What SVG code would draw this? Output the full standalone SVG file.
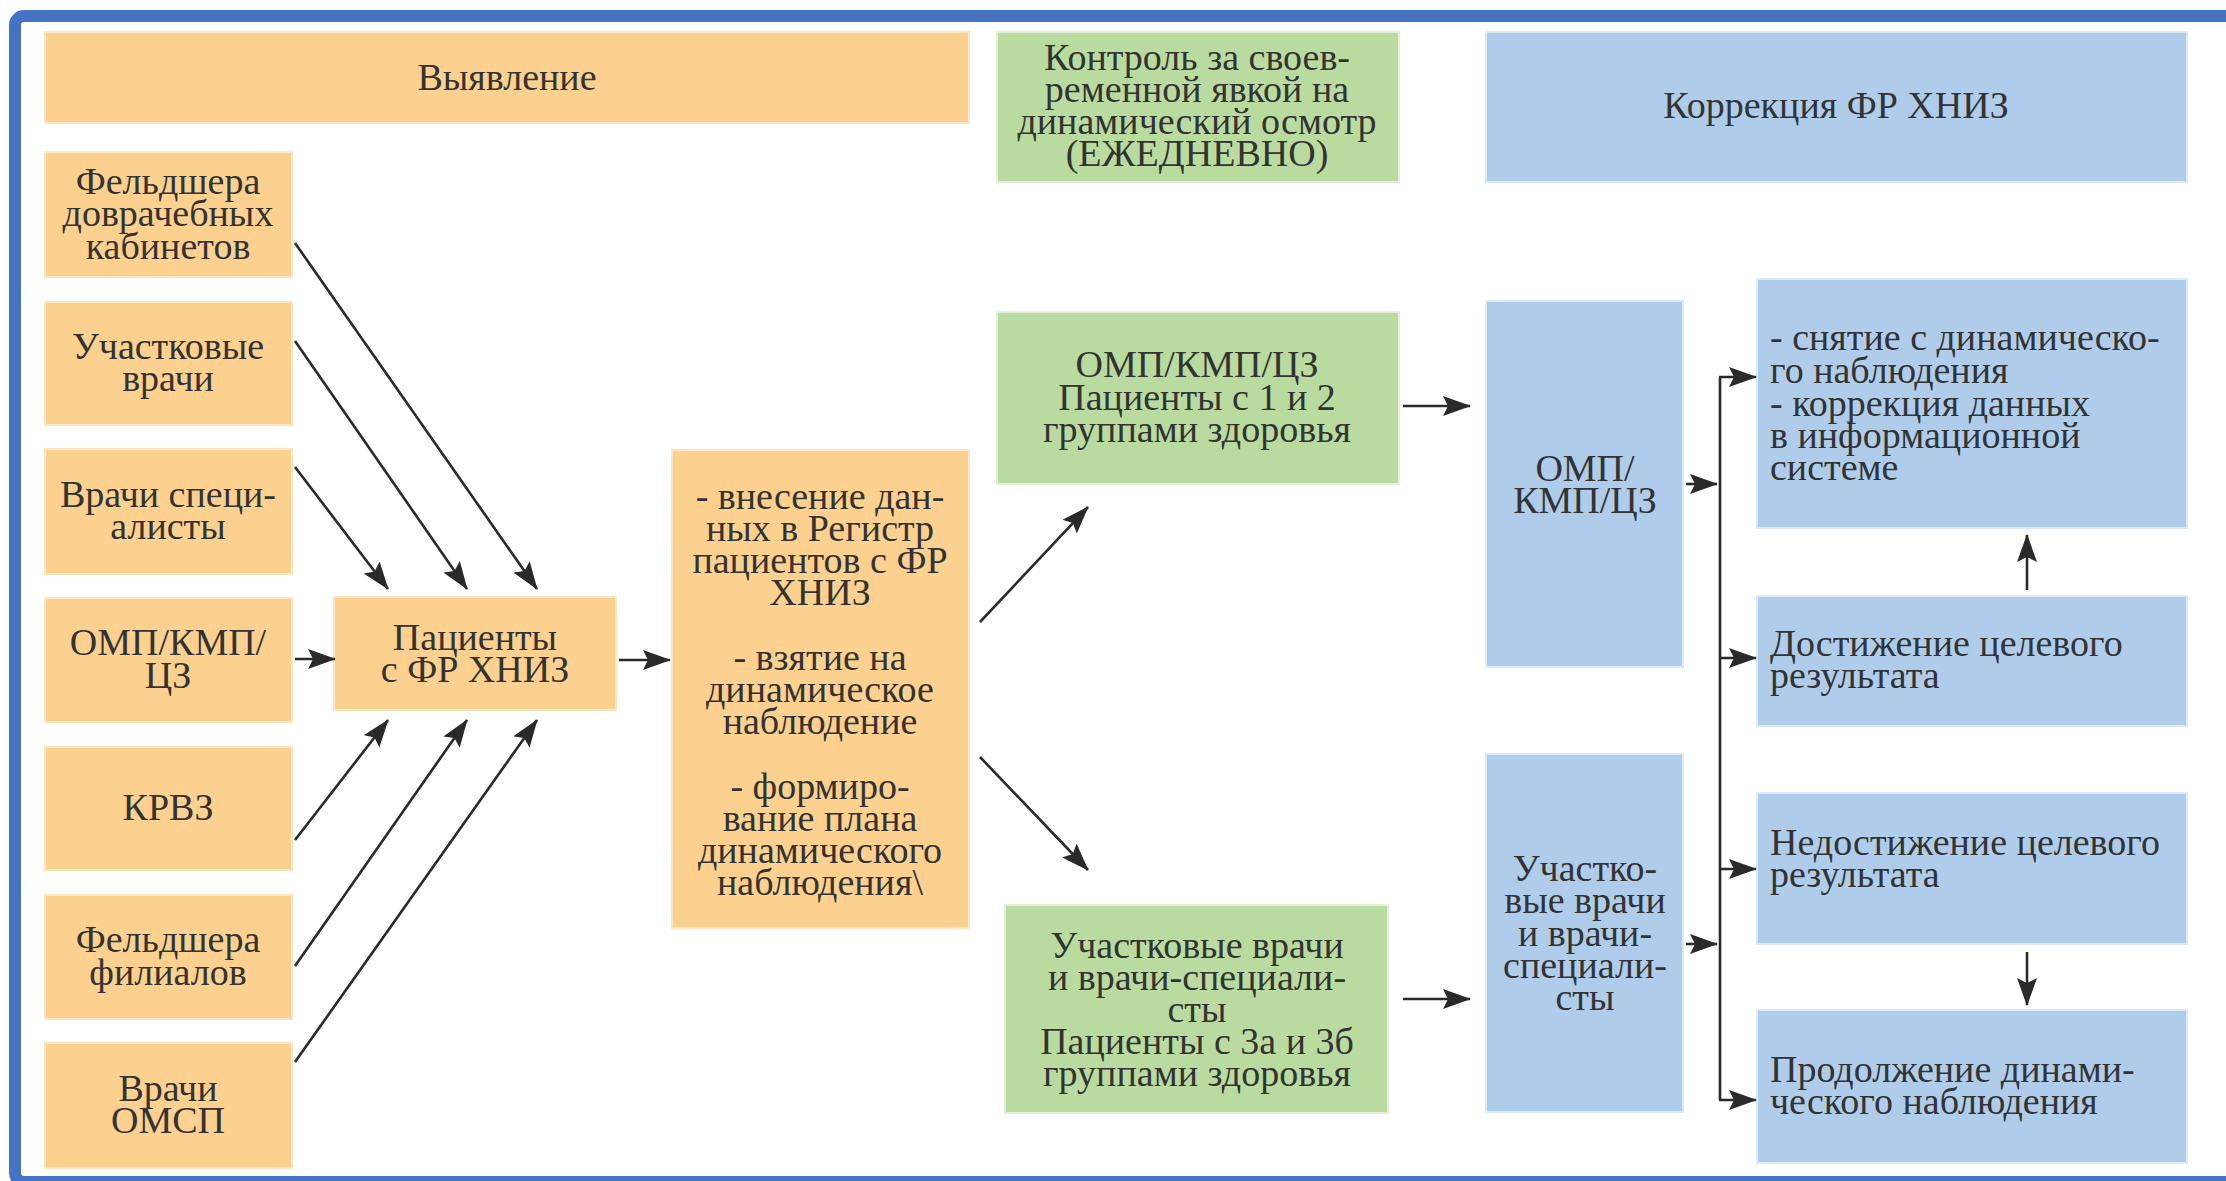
<svg xmlns="http://www.w3.org/2000/svg" width="2226" height="1181" viewBox="0 0 2226 1181">
<style>
.o{fill:#FCD08F;stroke:#FDE6C4;stroke-width:2}
.g{fill:#BADB9F;stroke:#E2F0D8;stroke-width:2}
.b{fill:#AFCDEA;stroke:#DCE9F6;stroke-width:2}
.t{font-family:'Liberation Serif','Times New Roman',serif;font-size:38px;fill:#333}
.c{text-anchor:middle}
.l{text-anchor:start}
.ln{stroke:#2a2a2a;stroke-width:2.6;fill:none}
.a{marker-end:url(#ah)}
</style>
<defs>
<marker id="ah" markerUnits="userSpaceOnUse" markerWidth="30" markerHeight="22" refX="27" refY="10" orient="auto">
<path d="M0,0 L28,10 L0,20 L5,10 Z" fill="#2a2a2a"/>
</marker>
</defs>
<rect width="2226" height="1181" fill="#fff"/>
<rect x="15" y="16" width="2240" height="1166" rx="9" fill="none" stroke="#4472C4" stroke-width="12"/>

<g class="t" font-family="Liberation Serif, Times New Roman, serif">
<g id="n-vyyavlenie"><rect class="o" x="45" y="32" width="924" height="91"/><text class="c" x="507" y="90">Выявление</text></g>
<g id="n-kontrol"><rect class="g" x="997" y="32" width="402" height="150"/><text class="c"><tspan x="1197" y="70">Контроль за своев-</tspan><tspan x="1197" y="102">ременной явкой на</tspan><tspan x="1197" y="134">динамический осмотр</tspan><tspan x="1197" y="166">(ЕЖЕДНЕВНО)</tspan></text></g>
<g id="n-korrekciya"><rect class="b" x="1486" y="32" width="701" height="150"/><text class="c" x="1836" y="118">Коррекция ФР ХНИЗ</text></g>

<g id="n-feldsher-dk"><rect class="o" x="45" y="152" width="247" height="125"/><text class="c"><tspan x="168" y="194">Фельдшера</tspan><tspan x="168" y="226">доврачебных</tspan><tspan x="168" y="259">кабинетов</tspan></text></g>
<g id="n-uchastkovye"><rect class="o" x="45" y="302" width="247" height="123"/><text class="c"><tspan x="168" y="359">Участковые</tspan><tspan x="168" y="391">врачи</tspan></text></g>
<g id="n-vrachi-spec"><rect class="o" x="45" y="449" width="247" height="125"/><text class="c"><tspan x="168" y="507">Врачи специ-</tspan><tspan x="168" y="539">алисты</tspan></text></g>
<g id="n-omp"><rect class="o" x="45" y="598" width="247" height="124"/><text class="c"><tspan x="168" y="655">ОМП/КМП/</tspan><tspan x="168" y="688">ЦЗ</tspan></text></g>
<g id="n-krvz"><rect class="o" x="45" y="747" width="247" height="123"/><text class="c" x="168" y="820">КРВЗ</text></g>
<g id="n-feldsher-fil"><rect class="o" x="45" y="895" width="247" height="124"/><text class="c"><tspan x="168" y="952">Фельдшера</tspan><tspan x="168" y="985">филиалов</tspan></text></g>
<g id="n-omsp"><rect class="o" x="45" y="1043" width="247" height="125"/><text class="c"><tspan x="168" y="1101">Врачи</tspan><tspan x="168" y="1133">ОМСП</tspan></text></g>

<g id="n-pacienty"><rect class="o" x="334" y="597" width="282" height="113"/><text class="c"><tspan x="475" y="650">Пациенты</tspan><tspan x="475" y="682">с ФР ХНИЗ</tspan></text></g>

<g id="n-vnesenie"><rect class="o" x="672" y="450" width="297" height="478"/><text class="c"><tspan x="820" y="509">- внесение дан-</tspan><tspan x="820" y="541">ных в Регистр</tspan><tspan x="820" y="573">пациентов с ФР</tspan><tspan x="820" y="605">ХНИЗ</tspan><tspan x="820" y="670">- взятие на</tspan><tspan x="820" y="702">динамическое</tspan><tspan x="820" y="734">наблюдение</tspan><tspan x="820" y="799">- формиро-</tspan><tspan x="820" y="831">вание плана</tspan><tspan x="820" y="863">динамического</tspan><tspan x="820" y="895">наблюдения\</tspan></text></g>

<g id="n-green-omp"><rect class="g" x="997" y="312" width="402" height="172"/><text class="c"><tspan x="1197" y="377">ОМП/КМП/ЦЗ</tspan><tspan x="1197" y="410">Пациенты с 1 и 2</tspan><tspan x="1197" y="442">группами здоровья</tspan></text></g>
<g id="n-green-uch"><rect class="g" x="1005" y="905" width="383" height="208"/><text class="c"><tspan x="1197" y="958">Участковые врачи</tspan><tspan x="1197" y="990">и врачи-специали-</tspan><tspan x="1197" y="1022">сты</tspan><tspan x="1197" y="1054">Пациенты с 3а и 3б</tspan><tspan x="1197" y="1086">группами здоровья</tspan></text></g>

<g id="n-blue-omp"><rect class="b" x="1486" y="301" width="197" height="366"/><text class="c"><tspan x="1585" y="481">ОМП/</tspan><tspan x="1585" y="513">КМП/ЦЗ</tspan></text></g>
<g id="n-blue-uch"><rect class="b" x="1486" y="754" width="197" height="358"/><text class="c"><tspan x="1585" y="881">Участко-</tspan><tspan x="1585" y="913">вые врачи</tspan><tspan x="1585" y="946">и врачи-</tspan><tspan x="1585" y="978">специали-</tspan><tspan x="1585" y="1010">сты</tspan></text></g>

<g id="n-snyatie"><rect class="b" x="1757" y="279" width="430" height="249"/><text class="l"><tspan x="1770" y="350">- снятие с динамическо-</tspan><tspan x="1770" y="383">го наблюдения</tspan><tspan x="1770" y="416">- коррекция данных</tspan><tspan x="1770" y="448">в информационной</tspan><tspan x="1770" y="480">системе</tspan></text></g>
<g id="n-dostizhenie"><rect class="b" x="1757" y="596" width="430" height="130"/><text class="l"><tspan x="1770" y="656">Достижение целевого</tspan><tspan x="1770" y="688">результата</tspan></text></g>
<g id="n-nedostizhenie"><rect class="b" x="1757" y="793" width="430" height="151"/><text class="l"><tspan x="1770" y="855">Недостижение целевого</tspan><tspan x="1770" y="887">результата</tspan></text></g>
<g id="n-prodolzhenie"><rect class="b" x="1757" y="1010" width="430" height="153"/><text class="l"><tspan x="1770" y="1082">Продолжение динами-</tspan><tspan x="1770" y="1114">ческого наблюдения</tspan></text></g>
</g>

<g id="connectors">
<path class="ln a" d="M295,243 L537,589"/>
<path class="ln a" d="M295,341 L467,589"/>
<path class="ln a" d="M295,467 L388,589"/>
<path class="ln a" d="M295,659 L335,659"/>
<path class="ln a" d="M295,840 L388,720"/>
<path class="ln a" d="M295,966 L467,720"/>
<path class="ln a" d="M295,1062 L537,720"/>
<path class="ln a" d="M619,660 L670,660"/>
<path class="ln a" d="M980,622 L1088,507"/>
<path class="ln a" d="M980,757 L1088,870"/>
<path class="ln a" d="M1403,406 L1470,406"/>
<path class="ln a" d="M1403,999 L1470,999"/>
<path class="ln a" d="M1686,484 L1717,484"/>
<path class="ln a" d="M1686,944 L1717,944"/>
<path class="ln" d="M1720,377 L1720,1100"/>
<path class="ln a" d="M1719,377 L1756,377"/>
<path class="ln a" d="M1720,658 L1756,658"/>
<path class="ln a" d="M1720,869 L1756,869"/>
<path class="ln a" d="M1719,1100 L1756,1100"/>
<path class="ln a" d="M2027,590 L2027,535"/>
<path class="ln a" d="M2027,952 L2027,1005"/>
</g>
</svg>
